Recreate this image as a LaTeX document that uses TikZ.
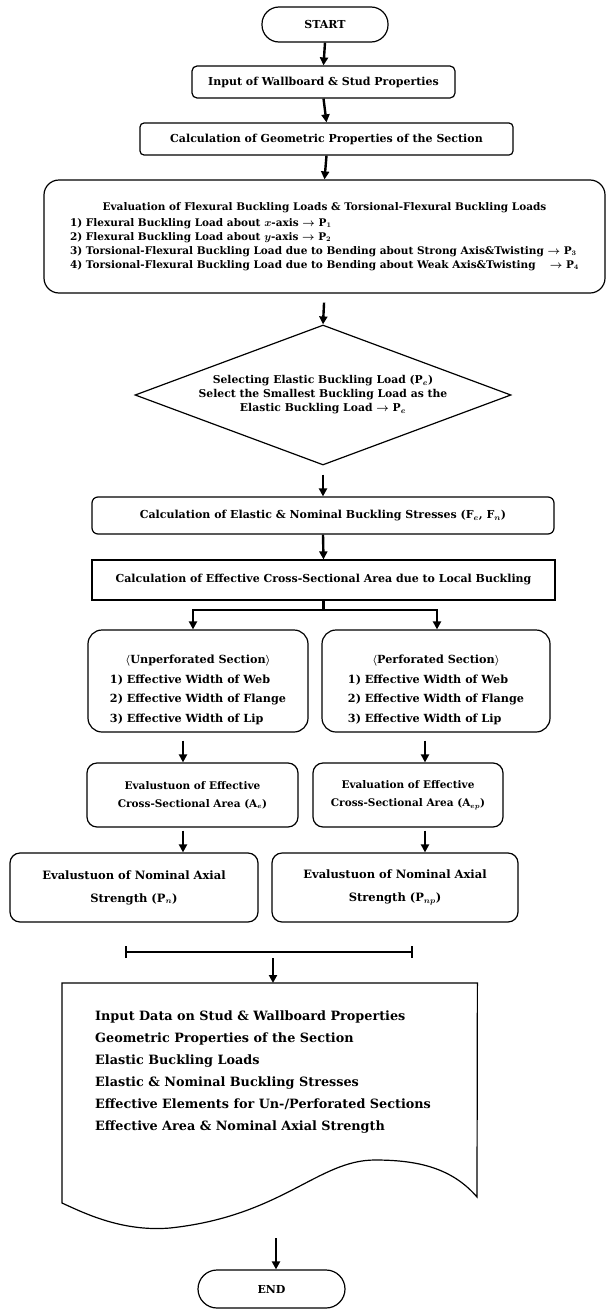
\documentclass[tikz,border=0pt]{standalone}
\usepackage{fontspec}
\setmainfont{DejaVu Serif}
\usetikzlibrary{shapes.geometric,arrows.meta}
\begin{document}
\begin{tikzpicture}[x=1pt,y=-1pt,
  txt/.style={font=\bfseries\boldmath\fontsize{10.5}{14}\selectfont},
  bigtxt/.style={font=\bfseries\boldmath\fontsize{11}{14}\selectfont},
  box/.style={draw, line width=1.2pt, align=center, inner sep=2pt, txt},
  arr/.style={line width=2.4pt, -{Triangle[length=8pt,width=8pt]}},
  thick line/.style={line width=2.6pt}
]
\useasboundingbox (0,0) rectangle (607,1309);

% top column
\node[box, bigtxt, rounded corners=17pt, minimum width=126pt, minimum height=35pt] (start) at (325,24.5) {START};
\node[box, bigtxt, rounded corners=5pt, minimum width=263pt, minimum height=32pt] (input) at (323.5,82) {Input of Wallboard \& Stud Properties};
\node[box, bigtxt, rounded corners=4pt, minimum width=373pt, minimum height=32pt] (geom) at (326.5,139) {Calculation of Geometric Properties of the Section};
\node[box, rounded corners=15pt, minimum width=561pt, minimum height=113pt] (eval) at (324.5,236.5) {\begin{tabular}{@{}l@{}}
\multicolumn{1}{@{}c@{}}{Evaluation of Flexural Buckling Loads \& Torsional-Flexural Buckling Loads}\\[2pt]
1) Flexural Buckling Load about $x$-axis $\rightarrow$ P$_1$\\
2) Flexural Buckling Load about $y$-axis $\rightarrow$ P$_2$\\
3) Torsional-Flexural Buckling Load due to Bending about Strong Axis\&Twisting $\rightarrow$ P$_3$\\
4) Torsional-Flexural Buckling Load due to Bending about Weak Axis\&Twisting\hspace{10.5pt} $\rightarrow$ P$_4$
\end{tabular}};
\node[draw, line width=1.2pt, diamond, aspect=2.7, inner sep=1pt, minimum width=376pt, minimum height=140pt, align=center, font=\bfseries\boldmath\fontsize{10.8}{14}\selectfont] (sel) at (323,395) {Selecting Elastic Buckling Load (P$_e$)\\Select the Smallest Buckling Load as the\\Elastic Buckling Load $\rightarrow$ P$_e$};
\node[box, bigtxt, rounded corners=6pt, minimum width=462pt, minimum height=37pt] (stress) at (323,515.5) {Calculation of Elastic \& Nominal Buckling Stresses (F$_e$, F$_n$)};
\node[box, bigtxt, minimum width=463pt, minimum height=40pt] (calceff) at (323.5,580) {Calculation of Effective Cross-Sectional Area due to Local Buckling};

% two branches
\node[box, rounded corners=14pt, minimum width=220pt, minimum height=102pt, font=\bfseries\boldmath\fontsize{11.2}{19.5}\selectfont] (unperf) at (198,681) {\begin{tabular}{@{}l@{}}
\multicolumn{1}{@{}c@{}}{\rule{0pt}{30pt}$\langle$Unperforated Section$\rangle$}\\
1) Effective Width of Web\\
2) Effective Width of Flange\\
3) Effective Width of Lip
\end{tabular}};
\node[box, rounded corners=14pt, minimum width=228pt, minimum height=102pt, font=\bfseries\boldmath\fontsize{11.2}{19.5}\selectfont] (perf) at (436,681) {\begin{tabular}{@{}l@{}}
\multicolumn{1}{@{}c@{}}{\rule{0pt}{30pt}$\langle$Perforated Section$\rangle$}\\
1) Effective Width of Web\\
2) Effective Width of Flange\\
3) Effective Width of Lip
\end{tabular}};
\node[box, rounded corners=10pt, minimum width=211pt, minimum height=64pt, font=\bfseries\boldmath\fontsize{10.5}{18}\selectfont] (effAL) at (192.5,795) {Evalustuon of Effective\\Cross-Sectional Area (A$_e$)};
\node[box, rounded corners=10pt, minimum width=190pt, minimum height=64pt, font=\bfseries\boldmath\fontsize{10.5}{18}\selectfont] (effAR) at (408,795) {Evaluation of Effective\\Cross-Sectional Area (A$_{ep}$)};
\node[box, rounded corners=10pt, minimum width=248pt, minimum height=69pt, font=\bfseries\boldmath\fontsize{11.5}{23}\selectfont] (nomL) at (134,887.5) {Evalustuon of Nominal Axial\\Strength (P$_n$)};
\node[box, rounded corners=10pt, minimum width=246pt, minimum height=69pt, font=\bfseries\boldmath\fontsize{11.5}{23}\selectfont] (nomR) at (395,887.5) {Evalustuon of Nominal Axial\\Strength (P$_{np}$)};

% document
\node[minimum width=415pt, minimum height=245pt, anchor=north west, inner sep=0pt] (doc) at (62,983) {};
\draw[line width=1.2pt] (doc.north west) -- (doc.north east) -- (477,1197)
  .. controls (452,1168) and (418,1160) .. (375,1160)
  .. controls (318,1160) and (282,1216) .. (170,1228)
  .. controls (122,1232) and (84,1213) .. (62,1203) -- cycle;
\node[anchor=north west, align=left, inner sep=0pt, font=\bfseries\boldmath\fontsize{12.8}{22}\selectfont] (doctext) at (95,1011) {Input Data on Stud \& Wallboard Properties\\
Geometric Properties of the Section\\
Elastic Buckling Loads\\
Elastic \& Nominal Buckling Stresses\\
Effective Elements for Un-/Perforated Sections\\
Effective Area \& Nominal Axial Strength};

\node[box, bigtxt, rounded corners=19pt, minimum width=147pt, minimum height=38pt] (end) at (271.5,1289) {END};

% helper coordinates
\coordinate (br) at (323.5,610);
\coordinate (brL) at (193,610);
\coordinate (brR) at (437,610);
\coordinate (cL) at (183,0);
\coordinate (cR) at (425,0);
\coordinate (barL) at (125,952);
\coordinate (barR) at (413,952);
\coordinate (barM) at (273,958);
\coordinate (docout) at (276,1238);

% connectors
\draw[arr] (start.south) -- (input.north);
\draw[arr] (input.south) -- (geom.north);
\draw[arr] (geom.south) -- (eval.north);
\draw[arr, shorten <=9pt] (eval.south) -- (sel.north);
\draw[arr, shorten <=9pt] (sel.south) -- (stress.north);
\draw[arr] (stress.south) -- (calceff.north);
\draw[thick line] (calceff.south) -- (br);
\draw[thick line, line cap=rect] (brL) -- (brR);
\draw[arr] (brL) -- (brL |- unperf.north);
\draw[arr] (brR) -- (brR |- perf.north);
\draw[arr, shorten <=8pt] (unperf.south -| cL) -- (effAL.north -| cL);
\draw[arr, shorten <=8pt] (perf.south -| cR) -- (effAR.north -| cR);
\draw[arr, shorten <=3pt] (effAL.south -| cL) -- (nomL.north -| cL);
\draw[arr, shorten <=3pt] (effAR.south -| cR) -- (nomR.north -| cR);
\draw[thick line, {Bar[width=12pt,line width=2pt]}-{Bar[width=12pt,line width=2pt]}] (barL) -- (barR);
\draw[arr] (barM) -- (barM |- doc.north);
\draw[arr] (docout) -- (docout |- end.north);
\end{tikzpicture}
\end{document}
